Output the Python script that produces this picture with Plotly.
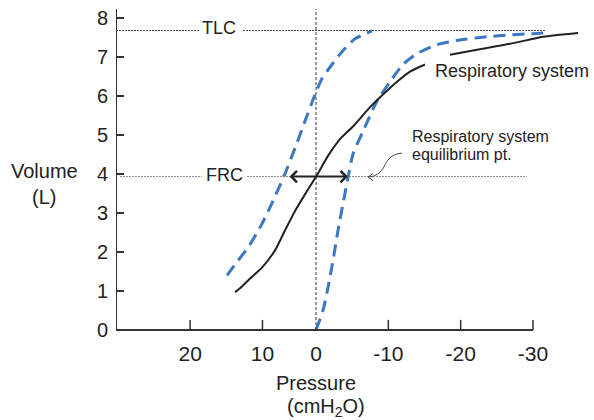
import plotly.graph_objects as go

# ---------------- data (pressure in cmH2O, volume in L) ----------------
# Respiratory system (solid black); None marks the break behind the label
resp_p = [11.20, 10.51, 9.12, 7.47, 5.67, 4.29, 2.90, 1.24, -0.14, -1.66, -3.32,
          -5.25, -7.19, -8.85, -11.20, -13.00, -15.07, None,
          -18.53, -22.26, -26.82, -31.38, -36.22]
resp_v = [0.97, 1.07, 1.32, 1.60, 2.04, 2.55, 3.05, 3.56, 3.97, 4.46, 4.89,
          5.24, 5.65, 5.96, 6.36, 6.62, 6.80, None,
          7.05, 7.18, 7.33, 7.51, 7.61]

# Left dashed blue curve
left_p = [12.30, 10.78, 9.40, 7.47, 5.94, 4.29, 2.90, 1.52, 0.14, -0.83, -2.21,
          -3.59, -5.39, -7.74]
left_v = [1.40, 1.78, 2.11, 2.72, 3.31, 4.00, 4.66, 5.35, 6.03, 6.44, 6.80,
          7.13, 7.46, 7.66]

# Right dashed blue curve
right_p = [0.0, -0.97, -1.66, -2.35, -3.04, -3.73, -4.42, -5.12, -6.50, -8.43,
           -10.23, -12.03, -13.96, -16.73, -19.91, -23.64, -26.82, -30.00, -31.66]
right_v = [0.0, 0.51, 1.09, 1.78, 2.55, 3.23, 3.90, 4.51, 5.09, 5.86,
           6.36, 6.80, 7.08, 7.31, 7.43, 7.51, 7.56, 7.59, 7.61]

# Axis ticks (schematic, non-uniform placement as in the original drawing)
x_tickvals = [17.4, 7.4, 0, -10, -20, -30]
x_ticktext = ["20", "10", "0", "-10", "-20", "-30"]
y_tickvals = [0, 1, 2, 3, 4, 5, 6, 7, 8]

TLC = 7.67
FRC = 3.93
arrow_left = 3.87      # pressure at left arrow tip
arrow_right = -4.42    # pressure at right arrow tip

# ---------------- layout constants ----------------
W, H = 594, 420
ML, MR, MT, MB = 116, 4, 4, 88
XR = [27.65, -37.88]
YR = [-0.05, 8.35]
FONT = "Liberation Sans, Arial, Helvetica, sans-serif"
BLUE = "#3B78C4"
INK = "#222222"


def px(xpix):
    return (xpix - ML) / (W - ML - MR)


def py(ypix):
    return (H - MB - ypix) / (H - MT - MB)


fig = go.Figure()

fig.add_trace(go.Scatter(x=left_p, y=left_v, mode="lines",
                         line=dict(color=BLUE, width=3, dash="12px,7px", shape="spline", smoothing=0.6),
                         hoverinfo="skip", showlegend=False))
fig.add_trace(go.Scatter(x=right_p, y=right_v, mode="lines",
                         line=dict(color=BLUE, width=3, dash="12px,7px", shape="spline", smoothing=0.6),
                         hoverinfo="skip", showlegend=False))
fig.add_trace(go.Scatter(x=resp_p, y=resp_v, mode="lines", connectgaps=False,
                         line=dict(color=INK, width=2, shape="spline", smoothing=0.6),
                         hoverinfo="skip", showlegend=False))

shapes = []
# axes lines
shapes.append(dict(type="line", x0=XR[0], x1=-30, y0=0, y1=0, xref="x", yref="y",
                   line=dict(color="#333", width=2)))
shapes.append(dict(type="line", x0=XR[0], x1=XR[0], y0=0, y1=8.22, xref="x", yref="y",
                   line=dict(color="#333", width=2)))
# x tick marks (inside, no mark at 0)
for v in x_tickvals:
    if v != 0:
        shapes.append(dict(type="line", x0=v, x1=v, y0=0, y1=0.26, xref="x", yref="y",
                           line=dict(color="#333", width=1.5)))
# vertical zero line
shapes.append(dict(type="line", x0=0, x1=0, y0=0, y1=8.22, xref="x", yref="y",
                   line=dict(color="#333", width=1, dash="3px,2px")))
# TLC line (with gap for label)
shapes.append(dict(type="line", x0=XR[0], x1=16.04, y0=TLC, y1=TLC,
                   line=dict(color="#444", width=1, dash="2px,1px")))
shapes.append(dict(type="line", x0=10.09, x1=-31.66, y0=TLC, y1=TLC,
                   line=dict(color="#444", width=1, dash="2px,1px")))
# FRC line (with gap for label)
shapes.append(dict(type="line", x0=27.1, x1=15.76, y0=FRC, y1=FRC,
                   line=dict(color="#888", width=1, dash="2px,1px")))
shapes.append(dict(type="line", x0=9.54, x1=-29.17, y0=FRC, y1=FRC,
                   line=dict(color="#888", width=1, dash="2px,1px")))
# curved pointer to equilibrium point
shapes.append(dict(type="path",
                   path="M -11.89,4.53 C -10.23,4.51 -9.82,4.33 -9.40,4.18 S -8.16,3.92 -7.19,3.92",
                   line=dict(color="#444", width=1)))
shapes.append(dict(type="path", path="M -7.88,4.01 L -7.19,3.92 L -7.88,3.83",
                   line=dict(color="#444", width=1)))

annotations = []
# double arrow at FRC
annotations.append(dict(x=arrow_right, y=FRC, ax=arrow_left, ay=FRC, axref="x", ayref="y",
                        xref="x", yref="y", text="", showarrow=True, arrowhead=4, startarrowhead=4,
                        arrowside="end+start", arrowwidth=2, arrowsize=1.1, startarrowsize=1.1,
                        arrowcolor=INK, standoff=0, startstandoff=0))


def label(text, xpix, ypix, size, xanchor="center"):
    annotations.append(dict(x=px(xpix), y=py(ypix), xref="paper", yref="paper", text=text,
                            showarrow=False, xanchor=xanchor, yanchor="middle",
                            font=dict(family=FONT, size=size, color=INK)))


label("TLC", 219, 28, 18)
label("FRC", 224, 175, 18)
label("Respiratory system", 433, 71, 18, xanchor="left")
label("Respiratory system", 410, 136, 16, xanchor="left")
label("equilibrium pt.", 410, 154, 16, xanchor="left")
label("Volume", 44, 171, 20)
label("(L)", 44, 197, 20)
label("Pressure", 316, 383, 20)
label("(cmH<sub>2</sub>O)", 326, 407, 20)

fig.update_layout(
    width=W, height=H,
    margin=dict(l=ML, r=MR, t=MT, b=MB),
    paper_bgcolor="white", plot_bgcolor="white",
    shapes=shapes, annotations=annotations,
    font=dict(family=FONT, color=INK),
    xaxis=dict(range=XR, showgrid=False, zeroline=False, showline=False,
               tickmode="array", tickvals=x_tickvals, ticktext=x_ticktext,
               ticks="", tickfont=dict(size=21, family=FONT, color=INK),
               ticklabelstandoff=7, fixedrange=True),
    yaxis=dict(range=YR, showgrid=False, zeroline=False, showline=False,
               tickmode="array", tickvals=y_tickvals,
               ticks="inside", ticklen=8, tickwidth=1.5, tickcolor="#333",
               tickfont=dict(size=20, family=FONT, color=INK),
               ticklabelstandoff=7, fixedrange=True),
)

fig.write_html("out.html", config={"displayModeBar": False})
